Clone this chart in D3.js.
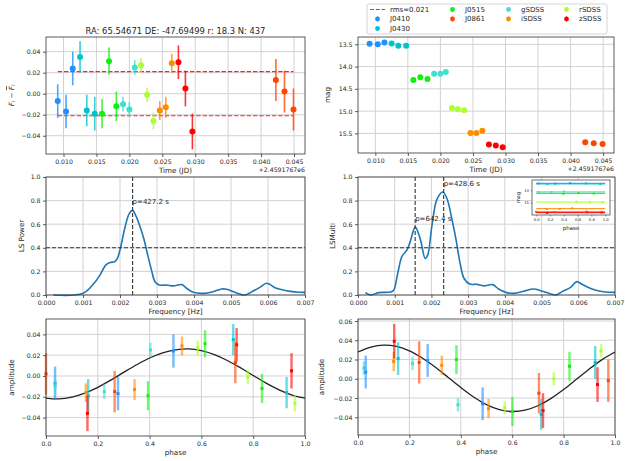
<!DOCTYPE html>
<html><head><meta charset="utf-8">
<script src="https://cdn.jsdelivr.net/npm/d3@7"></script>
<style>
body{margin:0;background:#fff}
text{font-family:"DejaVu Sans",sans-serif;fill:#262626}
</style>
</head><body><script>
// ---------- data ----------
const bandNames = ["J0410","J0430","J0515","J0861","gSDSS","iSDSS","rSDSS","zSDSS"];
const bandColors = ["#1e90ff","#00c4cc","#10f010","#ff4500","#40e0d0","#ff8c00","#adff2f","#ff0000"];
const legendOrder = ["rms","J0410","J0430","J0515","J0861","gSDSS","iSDSS","rSDSS","zSDSS"];
const rms = 0.021;

const bands = ["J0410","J0410","J0410","J0430","J0430","J0430","J0515","J0515","J0515","gSDSS","gSDSS","gSDSS","rSDSS","rSDSS","rSDSS","iSDSS","iSDSS","iSDSS","zSDSS","zSDSS","zSDSS","J0861","J0861","J0861"];
const times = [0.00912,0.01038,0.01140,0.01251,0.01353,0.01474,0.01585,0.01691,0.01802,0.01904,0.02000,0.02082,0.02178,0.02269,0.02365,0.02462,0.02553,0.02644,0.02745,0.02851,0.02957,0.04225,0.04356,0.04492];
const dF = [-0.007,-0.017,0.024,0.035,-0.016,-0.019,-0.019,0.031,-0.012,-0.010,-0.015,0.025,0.027,-0.001,-0.026,-0.016,-0.013,0.029,0.030,0.005,-0.036,0.013,0.002,-0.015];
const dFerr = [0.016,0.016,0.016,0.015,0.015,0.016,0.014,0.013,0.014,0.007,0.007,0.007,0.007,0.007,0.008,0.009,0.010,0.009,0.016,0.017,0.017,0.020,0.020,0.020];
const mags = [13.49,13.50,13.46,13.48,13.53,13.53,14.30,14.24,14.28,14.16,14.16,14.12,14.93,14.96,14.98,15.49,15.49,15.44,15.75,15.77,15.81,15.70,15.72,15.74];
const phase427 = [0.035,0.278,0.492,0.723,0.929,0.163,0.394,0.614,0.834,0.035,0.225,0.403,0.586,0.779,0.961,0.154,0.342,0.525,0.736,0.948,0.160,0.731,0.000,0.265];

const lsFreq = [0.0002,0.0010,0.0013,0.00146,0.00162,0.00173,0.00186,0.00193,0.00202,0.00214,0.00225,0.00234,0.00243,0.00254,0.00265,0.00274,0.00286,0.00295,0.00306,0.00326,0.00344,0.00367,0.0038,0.00398,0.00425,0.00452,0.00475,0.00488,0.00506,0.00524,0.00538,0.0056,0.00578,0.00596,0.00605,0.00619,0.00641,0.0066,0.00682,0.0070];
const lsPower = [0.0,0.014,0.10,0.17,0.255,0.275,0.283,0.31,0.41,0.58,0.69,0.717,0.67,0.58,0.47,0.35,0.20,0.11,0.085,0.085,0.077,0.088,0.057,0.023,0.014,0.028,0.051,0.048,0.028,0.008,0.0,0.034,0.065,0.10,0.09,0.062,0.042,0.031,0.023,0.022];
const lsPeriod = 427.2;

const lmFreq = [0.0002,0.00034,0.00056,0.00088,0.00097,0.00108,0.0012,0.00133,0.00142,0.00156,0.0017,0.00183,0.0019,0.00201,0.00215,0.00231,0.00242,0.00256,0.00267,0.00278,0.00289,0.00304,0.00324,0.00342,0.00367,0.00383,0.00405,0.00425,0.00451,0.00478,0.0050,0.00523,0.00539,0.00559,0.00578,0.00596,0.00609,0.00623,0.00646,0.00668,0.0070];
const lmPower = [0.02,0.0,0.02,0.025,0.04,0.18,0.33,0.38,0.45,0.575,0.47,0.31,0.34,0.58,0.81,0.873,0.82,0.64,0.47,0.27,0.14,0.093,0.09,0.077,0.088,0.051,0.02,0.014,0.031,0.051,0.034,0.011,0.0,0.034,0.062,0.113,0.093,0.07,0.042,0.028,0.022];
const lmPeriods = [642.4, 428.6];
const lmPeakPower = [0.575, 0.873];
const lsThreshold = 0.4;

const modelPhase = [0,0.05,0.1,0.15,0.2,0.25,0.3,0.35,0.4,0.45,0.5,0.55,0.6,0.65,0.7,0.75,0.8,0.85,0.9,0.95,1.0];
const blModel = [-0.0212,-0.0220,-0.0203,-0.0165,-0.0109,-0.0040,0.0035,0.0108,0.0173,0.0223,0.0252,0.0260,0.0243,0.0205,0.0149,0.0080,0.0005,-0.0068,-0.0133,-0.0183,-0.0212];
const brModel = [0.0278,0.0330,0.0350,0.0336,0.0290,0.0216,0.0122,0.0016,-0.0091,-0.0189,-0.0268,-0.0320,-0.0340,-0.0326,-0.0280,-0.0206,-0.0112,-0.0006,0.0101,0.0199,0.0278];

const brBand = ["gSDSS","J0410","iSDSS","zSDSS","J0430","gSDSS","J0861","J0410","iSDSS","J0515","gSDSS","J0410","iSDSS","rSDSS","J0515","J0861","J0430","zSDSS","rSDSS","J0515","J0430","zSDSS","rSDSS","J0861"];
const brPhase = [0.023,0.030,0.139,0.141,0.156,0.212,0.238,0.271,0.326,0.383,0.389,0.485,0.508,0.571,0.601,0.704,0.713,0.720,0.762,0.823,0.923,0.932,0.946,0.974];
const brAmp = [0.011,0.007,0.018,0.039,0.021,0.016,0.017,0.019,0.014,0.020,-0.027,-0.026,-0.031,-0.030,-0.034,-0.015,-0.037,-0.033,0.000,0.013,0.017,-0.006,0.029,-0.002];
const brErr = [0.007,0.017,0.010,0.018,0.017,0.007,0.022,0.017,0.010,0.015,0.007,0.017,0.010,0.007,0.015,0.021,0.016,0.018,0.007,0.015,0.017,0.018,0.007,0.022];

const insetBand = ["J0410","J0430","gSDSS","J0515","rSDSS","iSDSS","J0861","zSDSS"];
const insetLevel = [13.47,13.51,14.14,14.27,14.96,15.47,15.72,15.78];

const titleText = "RA: 65.54671 DE: -47.69499 r: 18.3 N: 437";

// ---------- helpers ----------
const col = b => bandColors[bandNames.indexOf(b)];
const svg = d3.select("body").append("svg").attr("width",625).attr("height",461).style("display","block");
svg.append("rect").attr("width",625).attr("height",461).attr("fill","#fff");

const TICK_FS = 6.2, LAB_FS = 7.2;

function panel(c){
  const x = d3.scaleLinear().domain(c.xd).range([c.x0,c.x1]);
  const y = d3.scaleLinear().domain(c.yd).range([c.y1,c.y0]);
  const g = svg.append("g");
  const grid = g.append("g").attr("stroke","#d2d2d2").attr("stroke-width",1);
  grid.selectAll(".gx").data(c.xt).join("line").attr("x1",d=>x(d)).attr("x2",d=>x(d)).attr("y1",c.y0).attr("y2",c.y1);
  grid.selectAll(".gy").data(c.yt).join("line").attr("y1",d=>y(d)).attr("y2",d=>y(d)).attr("x1",c.x0).attr("x2",c.x1);
  const ax = g.append("g").attr("transform",`translate(0,${c.y1})`)
    .call(d3.axisBottom(x).tickValues(c.xt).tickFormat(c.xf).tickSize(3).tickPadding(2.5));
  const ay = g.append("g").attr("transform",`translate(${c.x0},0)`)
    .call(d3.axisLeft(y).tickValues(c.yt).tickFormat(c.yf).tickSize(3).tickPadding(2.5));
  [ax,ay].forEach(a=>{
    a.attr("font-size",TICK_FS).attr("font-family","DejaVu Sans").style("color","#333");
    a.select(".domain").remove();
    a.selectAll("line").attr("stroke","#333").attr("stroke-width",0.8);
  });
  const data = g.append("g");
  const frame = () => g.append("rect").attr("x",c.x0).attr("y",c.y0).attr("width",c.x1-c.x0).attr("height",c.y1-c.y0)
      .attr("fill","none").attr("stroke","#333").attr("stroke-width",0.8);
  if(c.xlabel) g.append("text").attr("x",(c.x0+c.x1)/2).attr("y",c.y1+19).attr("text-anchor","middle").attr("font-size",LAB_FS).text(c.xlabel);
  if(c.ylabel) g.append("text").attr("transform",`translate(${c.ylx},${(c.y0+c.y1)/2}) rotate(-90)`).attr("text-anchor","middle").attr("dominant-baseline","central").attr("font-size",LAB_FS).text(c.ylabel);
  return {g,data,x,y,frame,c};
}

const f2 = d3.format(".2f"), f1 = d3.format(".1f"), f3 = d3.format(".3f");
const tTicks = [0.010,0.015,0.020,0.025,0.030,0.035,0.040,0.045];
const tDomain = [0.00734,0.04667];

// ---------- panel 1: dF vs time ----------
const p1 = panel({x0:46,x1:305,y0:37,y1:154,xd:tDomain,yd:[-0.0574,0.054],xt:tTicks,yt:[-0.04,-0.02,0,0.02,0.04],xf:f3,yf:f2,xlabel:"Time (JD)",ylx:11});
{
  const t = p1.g.append("text").attr("transform",`translate(11,${(37+154)/2}) rotate(-90)`).attr("text-anchor","middle").attr("dominant-baseline","central").attr("font-size",LAB_FS);
  t.append("tspan").attr("font-style","italic").text("F");
  t.append("tspan").attr("font-size",5).attr("dy",1.5).attr("font-style","italic").text("i");
  t.append("tspan").attr("dy",-1.5).text(" \u2212 ");
  t.append("tspan").attr("font-style","italic").style("text-decoration","overline").text("F");
  t.append("tspan").attr("font-size",5).attr("dy",1.5).attr("font-style","italic").text("i");
}
p1.g.append("text").attr("x",175.5).attr("y",33.5).attr("text-anchor","middle").attr("font-size",8.4).text(titleText);
p1.g.append("text").attr("x",305).attr("y",171.5).attr("text-anchor","end").attr("font-size",TICK_FS).text("+2.4591767e6");
[rms,-rms].forEach(v=>{
  p1.data.append("line").attr("x1",p1.x(d3.min(times))).attr("x2",p1.x(d3.max(times))).attr("y1",p1.y(v)).attr("y2",p1.y(v))
    .attr("stroke","#ff2020").attr("stroke-width",1.2).attr("stroke-dasharray","4.4,1.9");
});
times.forEach((t,i)=>{
  p1.data.append("line").attr("x1",p1.x(t)).attr("x2",p1.x(t)).attr("y1",p1.y(dF[i]-dFerr[i])).attr("y2",p1.y(dF[i]+dFerr[i]))
    .attr("stroke",col(bands[i])).attr("stroke-width",1.6).attr("stroke-opacity",0.8);
  p1.data.append("circle").attr("cx",p1.x(t)).attr("cy",p1.y(dF[i])).attr("r",3).attr("fill",col(bands[i]));
});
p1.frame();

// ---------- panel 2: mag vs time ----------
const p2 = panel({x0:358,x1:614,y0:37,y1:153,xd:tDomain,yd:[15.94,13.336],xt:tTicks,yt:[13.5,14.0,14.5,15.0,15.5],xf:f3,yf:f1,xlabel:"Time (JD)",ylabel:"mag",ylx:327});
p2.g.append("text").attr("x",614).attr("y",170.5).attr("text-anchor","end").attr("font-size",TICK_FS).text("+2.4591767e6");
times.forEach((t,i)=>{
  p2.data.append("circle").attr("cx",p2.x(t)).attr("cy",p2.y(mags[i])).attr("r",3).attr("fill",col(bands[i]));
});
p2.frame();

// legend
{
  const lg = svg.append("g");
  lg.append("rect").attr("x",367).attr("y",4).attr("width",240).attr("height",30).attr("rx",2).attr("fill","#fff").attr("stroke","#cccccc").attr("stroke-width",0.8);
  const colX = [370,445,501,559];
  const rowY = [9.5,19,28.5];
  const slots = [[0,0],[0,1],[0,2],[1,0],[1,1],[2,0],[2,1],[3,0],[3,1]];
  legendOrder.forEach((name,k)=>{
    const [ci,ri] = slots[k];
    const gx = colX[ci], gy = rowY[ri];
    if(name==="rms"){
      lg.append("line").attr("x1",gx).attr("x2",gx+15).attr("y1",gy).attr("y2",gy).attr("stroke","#ff2020").attr("stroke-width",1.1).attr("stroke-dasharray","4,1.8");
      lg.append("text").attr("x",gx+20).attr("y",gy).attr("dominant-baseline","central").attr("font-size",7).text("rms="+rms.toFixed(3));
    } else {
      lg.append("line").attr("x1",gx+7.5).attr("x2",gx+7.5).attr("y1",gy-2.5).attr("y2",gy+2.5).attr("stroke",col(name)).attr("stroke-width",1).attr("stroke-opacity",0.8);
      lg.append("circle").attr("cx",gx+7.5).attr("cy",gy).attr("r",2.4).attr("fill",col(name));
      lg.append("text").attr("x",gx+20).attr("y",gy).attr("dominant-baseline","central").attr("font-size",7).text(name);
    }
  });
}

// ---------- panel 3: LS power ----------
const fTicks = [0,0.001,0.002,0.003,0.004,0.005,0.006,0.007];
const pTicks = [0,0.2,0.4,0.6,0.8,1.0];
const p3 = panel({x0:46,x1:305,y0:177,y1:295,xd:[0,0.007],yd:[0,1],xt:fTicks,yt:pTicks,xf:f3,yf:f1,xlabel:"Frequency [Hz]",ylabel:"LS Power",ylx:21});
const lineGen = (p,xs,ys)=> d3.line().x((d,i)=>p.x(xs[i])).y((d,i)=>p.y(ys[i])).curve(d3.curveCatmullRom.alpha(0.5))(xs);
p3.data.append("path").attr("d",lineGen(p3,lsFreq,lsPower)).attr("fill","none").attr("stroke","#1f77b4").attr("stroke-width",1.6);
function dashes(p,periods,peaks){
  p.data.append("line").attr("x1",p.c.x0).attr("x2",p.c.x1).attr("y1",p.y(lsThreshold)).attr("y2",p.y(lsThreshold)).attr("stroke","#333").attr("stroke-width",1.1).attr("stroke-dasharray","4,2");
  periods.forEach((P,i)=>{
    const fx = p.x(1/P);
    p.data.append("line").attr("x1",fx).attr("x2",fx).attr("y1",p.c.y0).attr("y2",p.c.y1).attr("stroke","#333").attr("stroke-width",1.1).attr("stroke-dasharray","4,2");
    p.data.append("text").attr("x",fx).attr("y",p.y(peaks[i]+0.05)).attr("font-size",7).text("p="+P.toFixed(1)+" s");
  });
}
dashes(p3,[lsPeriod],[d3.max(lsPower)]);
p3.frame();

// ---------- panel 4: LSMulti ----------
const p4 = panel({x0:358,x1:615,y0:177,y1:295,xd:[0,0.007],yd:[0,1],xt:fTicks,yt:pTicks,xf:f3,yf:f1,xlabel:"Frequency [Hz]",ylabel:"LSMulti",ylx:332});
p4.data.append("path").attr("d",lineGen(p4,lmFreq,lmPower)).attr("fill","none").attr("stroke","#1f77b4").attr("stroke-width",1.6);
dashes(p4,lmPeriods,lmPeakPower);
p4.frame();

// inset
{
  const ix0=532, ix1=610, iy0=180, iy1=215;
  const x = d3.scaleLinear().domain([-0.06,1.07]).range([ix0,ix1]);
  const y = d3.scaleLinear().domain([13.21,15.97]).range([iy0,iy1]);
  const g = svg.append("g");
  g.append("rect").attr("x",ix0).attr("y",iy0).attr("width",ix1-ix0).attr("height",iy1-iy0).attr("fill","#fff");
  insetBand.forEach((b,i)=>{
    g.append("line").attr("x1",x(0)).attr("x2",x(1)).attr("y1",y(insetLevel[i])).attr("y2",y(insetLevel[i])).attr("stroke",col(b)).attr("stroke-width",1.3).attr("stroke-opacity",0.85);
  });
  phase427.forEach((ph,i)=>{
    g.append("rect").attr("x",x(ph)-1).attr("y",y(mags[i])-1).attr("width",2).attr("height",2).attr("fill",col(bands[i]));
  });
  const ax = g.append("g").attr("transform",`translate(0,${iy1})`).call(d3.axisBottom(x).tickValues([0,0.2,0.4,0.6,0.8,1.0]).tickFormat(f1).tickSize(1.5).tickPadding(1.5));
  const ay = g.append("g").attr("transform",`translate(${ix0},0)`).call(d3.axisLeft(y).tickValues([14,15]).tickFormat(d3.format("d")).tickSize(1.5).tickPadding(1.5));
  [ax,ay].forEach(a=>{
    a.attr("font-size",3.8).attr("font-family","DejaVu Sans").style("color","#333");
    a.select(".domain").remove();
    a.selectAll("line").attr("stroke","#333").attr("stroke-width",0.5);
  });
  g.append("rect").attr("x",ix0).attr("y",iy0).attr("width",ix1-ix0).attr("height",iy1-iy0).attr("fill","none").attr("stroke","#333").attr("stroke-width",0.7);
  g.append("text").attr("x",(ix0+ix1)/2).attr("y",230).attr("text-anchor","middle").attr("font-size",5.5).text("phase");
  g.append("text").attr("transform",`translate(518,${(iy0+iy1)/2}) rotate(-90)`).attr("text-anchor","middle").attr("dominant-baseline","central").attr("font-size",5).text("mag");
}

// ---------- panel 5: phase 427 ----------
const phTicks = [0,0.2,0.4,0.6,0.8,1.0];
const p5 = panel({x0:46,x1:305,y0:319,y1:436,xd:[0,1],yd:[-0.0577,0.0548],xt:phTicks,yt:[-0.04,-0.02,0,0.02,0.04],xf:f1,yf:f2,xlabel:"phase",ylabel:"amplitude",ylx:11});
function phasePoints(p,ph,amp,err,bnd){
  ph.forEach((v,i)=>{
    p.data.append("line").attr("x1",p.x(v)).attr("x2",p.x(v)).attr("y1",p.y(amp[i]-err[i])).attr("y2",p.y(amp[i]+err[i]))
      .attr("stroke",col(bnd[i])).attr("stroke-width",2.4).attr("stroke-opacity",0.6);
    p.data.append("rect").attr("x",p.x(v)-1.5).attr("y",p.y(amp[i])-1.5).attr("width",3).attr("height",3).attr("fill",col(bnd[i]));
  });
}
p5.data.append("path").attr("d",lineGen(p5,modelPhase,blModel)).attr("fill","none").attr("stroke","#222").attr("stroke-width",1.3);
phasePoints(p5,phase427,dF,dFerr,bands);
p5.frame();

// ---------- panel 6: phase multi ----------
const p6 = panel({x0:358,x1:615,y0:319,y1:435,xd:[0,1],yd:[-0.0584,0.0621],xt:phTicks,yt:[-0.04,-0.02,0,0.02,0.04,0.06],xf:f1,yf:f2,xlabel:"phase",ylabel:"amplitude",ylx:321});
p6.data.append("path").attr("d",lineGen(p6,modelPhase,brModel)).attr("fill","none").attr("stroke","#222").attr("stroke-width",1.3);
phasePoints(p6,brPhase,brAmp,brErr,brBand);
p6.frame();
</script></body></html>
